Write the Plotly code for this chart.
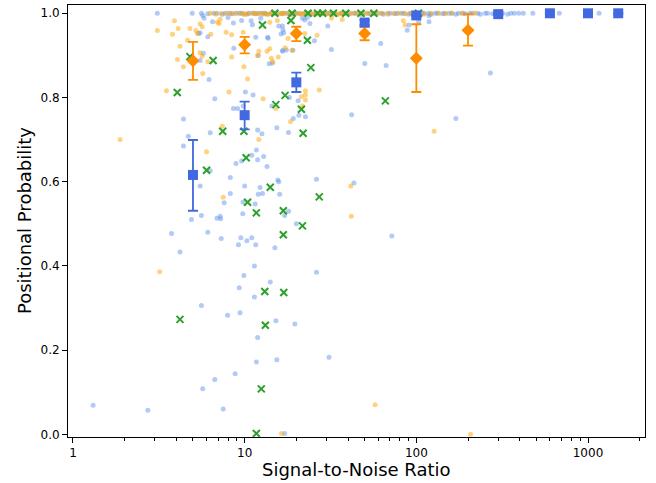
import plotly.graph_objects as go

# ---- light blue points (off the top band) ----
blue_snr = [1.31, 2.73, 3.75, 4.2, 4.9, 5.6, 5.5, 6.1, 6.9, 7.2, 7.25, 7.6, 8.25, 7.3, 10.0, 9.75, 9.8, 9.5, 9.2, 10.3,
            11.0, 11.6, 11.5, 12.0, 12.3, 15.8, 16.0, 17.1, 18.0, 15.0, 20.0, 11.4, 9.9, 14.1, 9.3, 11.4, 5.6, 7.95, 9.4, 15.2,
            19.6, 26.2, 31.0, 11.9, 11.7, 15.4, 8.8, 6.7, 5.7, 7.5, 17.1, 43.3, 42.0, 170, 270, 62, 50.1, 66.7, 118.5, 118.5,
            90.6, 88.6, 103, 26.2, 72, 3.1, 4.4, 4.7, 4.4, 6.2, 6.7, 6.3, 6.3, 5.5, 5.4, 6.1, 5.5, 5.75, 5.7, 5.8,
            6.5, 8.0, 8.6, 10.1, 8.6, 9.1, 9.8, 11.2, 8.65, 11.6, 10.9, 11.1, 9.6, 12.0, 12.4, 13.9, 14.5, 13.6, 14.4, 15.4,
            15.8, 16.6, 16.6, 16.9, 17.5, 18.0, 19.2, 20.5, 20.7, 22.6, 21.7, 22.4, 24.0, 25.5, 30.5, 32.0, 8.25, 12.7, 12.9, 11.9,
            13.5, 8.9, 9.6, 11.0, 11.7, 11.9, 12.6, 15.6, 13.7, 16.7, 16.3, 19.1, 16.7, 23.2, 18.2]
blue_prob = [0.069, 0.057, 0.477, 0.433, 0.51, 0.52, 0.59, 0.48, 0.513, 0.518, 0.512, 0.55, 0.572, 0.465, 0.59, 0.524, 0.551, 0.467, 0.45, 0.46,
             0.467, 0.45, 0.547, 0.57, 0.586, 0.60, 0.57, 0.52, 0.53, 0.443, 0.50, 0.40, 0.377, 0.362, 0.348, 0.326, 0.306, 0.283, 0.289, 0.27,
             0.262, 0.385, 0.183, 0.23, 0.172, 0.177, 0.144, 0.13, 0.108, 0.06, 0.002, 0.597, 0.759, 0.750, 0.858, 0.928, 0.881, 0.876, 0.994, 0.98,
             0.972, 0.960, 0.98, 0.606, 0.471, 1.0, 0.749, 0.708, 0.685, 0.843, 0.797, 0.716, 0.626, 0.888, 0.952, 0.944, 0.954, 0.905, 0.995, 0.988,
             0.98, 0.99, 0.977, 0.813, 0.774, 0.774, 0.78, 0.806, 0.917, 0.943, 0.982, 0.973, 0.983, 0.90, 0.988, 0.88, 0.882, 0.943, 0.78, 0.728,
             0.97, 0.97, 0.91, 0.954, 0.913, 0.717, 0.75, 0.792, 0.758, 0.754, 0.988, 0.984, 0.976, 0.935, 0.97, 0.914, 0.61, 0.572, 0.66, 0.652,
             0.636, 0.643, 0.649, 0.663, 0.675, 0.723, 0.714, 0.604, 0.941, 0.961, 0.951, 0.912, 0.912, 0.99, 0.80]

# ---- light blue points on the top band ----
blue_top_snr = [4.95, 5.6, 6.1, 6.6, 6.9, 7.4, 7.7, 8.2, 8.5, 9.0, 9.4, 9.7, 10.3, 10.6, 11.2, 11.6, 12.1, 12.7, 13.2, 13.5,
                14.3, 14.9, 15.4, 16.3, 16.8, 17.6, 18.4, 19.5, 20.1, 21.0, 22.2, 22.9, 24.0, 25.4, 26.1, 27.7, 28.6, 30.3, 31.2, 33.1,
                34.2, 36.3, 37.5, 39.6, 41.0, 43.4, 44.8, 47.5, 49.0, 52.0, 53.6, 56.9, 58.8, 62.4, 64.2, 68.3, 70.5, 75.0, 77.2, 82.0,
                84.9, 90.0, 93.1, 98.5, 103, 108, 111, 118, 122, 129, 133, 142, 146, 155, 161, 170, 176, 187, 193, 205,
                213, 228, 236, 252, 260, 278, 288, 310, 318, 340, 355, 372, 395, 420, 477, 680, 1160]
blue_top_prob = [1.0, 1.0, 0.999, 1.0, 1.0, 0.998, 1.0, 1.0, 0.999, 1.0, 1.0, 1.0, 0.998, 1.0, 1.0, 0.999, 1.0, 1.0, 1.0, 0.998,
                 1.0, 1.0, 0.999, 1.0, 1.0, 1.0, 0.998, 1.0, 1.0, 0.999, 1.0, 1.0, 1.0, 0.998, 1.0, 1.0, 0.999, 1.0, 1.0, 1.0,
                 0.998, 1.0, 1.0, 0.999, 1.0, 1.0, 1.0, 0.998, 1.0, 1.0, 0.999, 1.0, 1.0, 1.0, 0.998, 1.0, 1.0, 0.999, 1.0, 1.0,
                 1.0, 0.998, 1.0, 1.0, 0.999, 1.0, 1.0, 1.0, 0.998, 1.0, 1.0, 0.999, 1.0, 1.0, 1.0, 0.998, 1.0, 1.0, 0.999, 1.0,
                 1.0, 1.0, 0.998, 1.0, 1.0, 0.999, 1.0, 1.0, 1.0, 0.998, 1.0, 1.0, 1.0, 1.0, 1.0, 1.0, 1.0]

# ---- light orange points (off the top band) ----
orange_snr = [1.88, 3.2, 7.5, 16.4, 207, 41.5, 41.8, 3.5, 12.1, 12.8, 10.4, 9.9, 8.1, 7.4, 6.0, 22.6, 22.6, 22.6, 21.4, 27.2,
              18.5, 15.2, 57.5, 127, 37, 84, 86, 3.1, 3.9, 4.1, 3.8, 4.2, 4.65, 4.06, 4.4, 4.8, 5.2, 5.3, 5.5, 5.65,
              5.5, 5.65, 6.1, 5.7, 6.95, 7.1, 7.2, 6.35, 7.8, 8.4, 8.4, 9.8, 12.1, 11.9, 13.5, 14.0, 14.3, 14.6, 15.7, 14.0,
              15.5, 17.2, 17.9, 18.9, 22.4, 26.4, 32.0, 21.7]
orange_prob = [0.70, 0.386, 0.563, 0.002, 0.0, 0.59, 0.518, 0.816, 0.70, 0.797, 0.844, 0.873, 0.813, 0.732, 0.671, 0.816, 0.806, 0.794, 0.802, 0.818,
               0.743, 0.774, 0.07, 0.72, 0.985, 0.982, 0.972, 0.959, 0.982, 0.964, 0.95, 0.922, 0.936, 0.89, 0.873, 0.964, 0.959, 0.952, 0.975, 0.968,
               0.906, 0.898, 0.885, 0.857, 0.979, 0.976, 0.986, 0.95, 0.955, 0.949, 0.896, 0.955, 0.910, 0.90, 0.91, 0.916, 0.893, 0.885, 0.896, 0.979,
               0.983, 0.918, 0.94, 0.912, 0.952, 0.948, 0.988, 0.78]

# ---- light orange points on the top band ----
orange_top_snr = [6.3, 6.8, 7.3, 7.9, 8.3, 8.8, 9.4, 9.9, 10.5, 11.1, 11.8, 12.4, 13.1, 13.8, 14.6, 15.3, 16.1, 17.0, 17.9, 18.8,
                  19.8, 20.9, 22.0, 23.2, 24.5, 25.8, 27.1, 28.6, 30.1, 31.8, 33.5, 35.2, 37.1, 39.2, 41.3, 43.5, 46.0, 48.4, 51.0, 53.8,
                  57.0, 60.1, 64.0, 68.5, 74.0, 79.5, 86.0, 92.0, 100, 111, 122, 135, 148, 161, 184, 220, 306,
                  10.0, 11.5, 12.9, 14.2, 16.6, 19.3, 21.5, 24.0, 26.6, 29.4, 32.6, 36.0]
orange_top_prob = [1.0, 0.998, 1.0, 1.0, 0.999, 1.0, 1.0, 0.997, 1.0, 1.0, 0.999, 1.0, 1.0, 0.998, 1.0, 1.0, 0.999, 1.0, 1.0, 0.997,
                   1.0, 1.0, 0.999, 1.0, 1.0, 0.998, 1.0, 1.0, 0.999, 1.0, 1.0, 0.997, 1.0, 1.0, 0.999, 1.0, 1.0, 0.998, 1.0, 1.0,
                   0.999, 1.0, 1.0, 0.998, 1.0, 1.0, 0.999, 1.0, 1.0, 0.998, 1.0, 1.0, 0.999, 1.0, 1.0, 1.0, 1.0,
                   0.999, 1.0, 0.998, 1.0, 0.999, 1.0, 0.998, 1.0, 0.999, 1.0, 0.998, 1.0]

# ---- green x markers ----
green_snr = [4.2, 10.4, 11.7, 14.1, 16.8, 16.8, 21.7, 27.2, 13.1, 16.9, 13.2, 12.5, 11.7, 4.8, 6.55, 4.05, 7.45, 9.9, 6.0, 10.2,
             15.2, 17.2, 21.4, 21.9, 24.3, 23.2, 12.7, 18.6, 66, 15, 18.9, 23.4, 26.6, 28.5, 32.9, 38.8, 47.6, 56.6, 103]
green_prob = [0.273, 0.551, 0.526, 0.587, 0.531, 0.474, 0.495, 0.564, 0.339, 0.337, 0.259, 0.108, 0.002, 0.897, 0.888, 0.812, 0.72, 0.72, 0.627, 0.657,
              0.783, 0.805, 0.772, 0.715, 0.871, 0.936, 0.972, 0.983, 0.792, 1.0, 1.0, 1.0, 1.0, 1.0, 1.0, 1.0, 1.0, 1.0, 1.0]

# ---- binned means: orange diamonds ----
dia_snr = [5, 10, 20, 50, 100, 200]
dia_mean = [0.887, 0.925, 0.952, 0.952, 0.893, 0.960]
dia_low = [0.842, 0.905, 0.934, 0.936, 0.813, 0.923]
dia_high = [0.932, 0.944, 0.968, 0.968, 0.974, 0.998]

# ---- binned means: blue squares ----
sq_snr = [5, 10, 20, 50, 100, 300, 600, 1000, 1500]
sq_mean = [0.616, 0.758, 0.836, 0.978, 0.995, 0.998, 1.0, 1.0, 1.0]
sq_low = [0.531, 0.7245, 0.813, 0.972, 0.993, 0.997, 0.999, 0.999, 0.999]
sq_high = [0.699, 0.790, 0.859, 0.984, 0.997, 0.999, 1.0, 1.0, 1.0]

x_tickvals = [1, 10, 100, 1000]
x_ticktext = ["1", "10", "100", "1000"]
y_tickvals = [0.0, 0.2, 0.4, 0.6, 0.8, 1.0]

LIGHT_BLUE = "rgba(100,149,237,0.5)"
LIGHT_ORANGE = "rgba(255,165,0,0.5)"
GREEN = "#2ca02c"
DARK_ORANGE = "#ff8c00"
ROYAL = "#4169e1"
FONT = "DejaVu Sans"

fig = go.Figure()
fig.add_trace(go.Scatter(x=blue_snr + blue_top_snr, y=blue_prob + blue_top_prob, mode="markers",
                         marker=dict(size=5, color=LIGHT_BLUE, line=dict(width=0)), showlegend=False))
fig.add_trace(go.Scatter(x=orange_snr + orange_top_snr, y=orange_prob + orange_top_prob, mode="markers",
                         marker=dict(size=5, color=LIGHT_ORANGE, line=dict(width=0)), showlegend=False))
fig.add_trace(go.Scatter(x=green_snr, y=green_prob, mode="markers",
                         marker=dict(symbol="x-thin", size=7, color=GREEN, line=dict(width=2, color=GREEN)),
                         showlegend=False))
fig.add_trace(go.Scatter(x=dia_snr, y=dia_mean, mode="markers",
                         marker=dict(symbol="diamond", size=10, color=DARK_ORANGE, line=dict(width=0)),
                         error_y=dict(type="data", symmetric=False,
                                      array=[h - m for h, m in zip(dia_high, dia_mean)],
                                      arrayminus=[m - l for m, l in zip(dia_mean, dia_low)],
                                      color=DARK_ORANGE, thickness=1.8, width=5),
                         showlegend=False))
fig.add_trace(go.Scatter(x=sq_snr, y=sq_mean, mode="markers",
                         marker=dict(symbol="square", size=10, color=ROYAL, line=dict(width=0)),
                         error_y=dict(type="data", symmetric=False,
                                      array=[h - m for h, m in zip(sq_high, sq_mean)],
                                      arrayminus=[m - l for m, l in zip(sq_mean, sq_low)],
                                      color=ROYAL, thickness=1.8, width=5),
                         showlegend=False))

minor_vals = [m * d for d in [1, 10, 100, 1000] for m in range(2, 10)]

fig.update_layout(
    width=656, height=483,
    margin=dict(l=68, r=11, t=5, b=46, autoexpand=False),
    plot_bgcolor="white", paper_bgcolor="white",
    font=dict(family=FONT, size=12, color="black"),
    xaxis=dict(type="log", range=[-0.029, 3.332], tickmode="array", tickvals=x_tickvals, ticktext=x_ticktext,
               automargin=False,
               ticks="outside", ticklen=5, tickwidth=1, tickcolor="black",
               showline=True, linecolor="black", linewidth=1, mirror=True, showgrid=False, zeroline=False,
               minor=dict(tickmode="array", tickvals=minor_vals, ticks="outside", ticklen=3, tickwidth=0.8,
                          tickcolor="black", showgrid=False),
               tickfont=dict(family=FONT, size=12, color="black")),
    yaxis=dict(range=[-0.0064, 1.0197], tickmode="array", tickvals=y_tickvals, tickformat=".1f",
               automargin=False,
               ticks="outside", ticklen=5, tickwidth=1, tickcolor="black",
               showline=True, linecolor="black", linewidth=1, mirror=True, showgrid=False, zeroline=False,
               tickfont=dict(family=FONT, size=12, color="black")),
    annotations=[
        dict(text="Signal-to-Noise Ratio", xref="paper", yref="paper", x=0.5, y=0, yshift=-32,
             xanchor="center", yanchor="middle", showarrow=False, font=dict(family=FONT, size=18, color="black")),
        dict(text="Positional Probability", xref="paper", yref="paper", x=0, y=0.5, xshift=-44,
             xanchor="center", yanchor="middle", textangle=-90, showarrow=False,
             font=dict(family=FONT, size=18, color="black")),
    ],
)

fig.write_html("out.html", config={"displayModeBar": False},
               post_script="document.body.style.margin='0px';document.body.style.overflow='hidden';")
